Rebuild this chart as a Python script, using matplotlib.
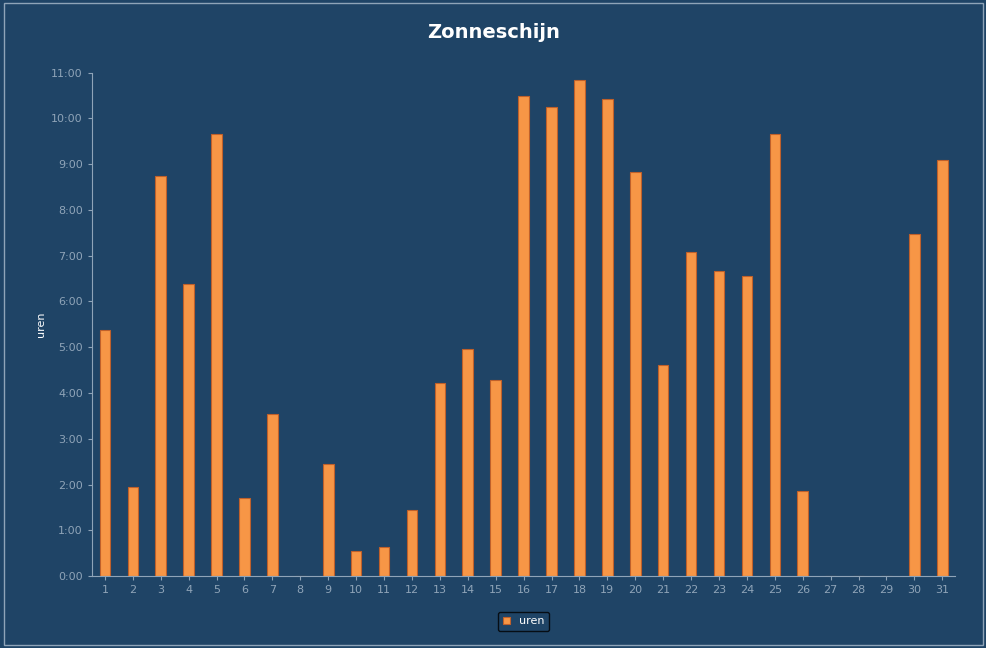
import matplotlib
matplotlib.use("Agg")
import matplotlib.pyplot as plt
from matplotlib.patches import Rectangle

days = list(range(1, 32))
hours = [5.38, 1.95, 8.73, 6.39, 9.65, 1.71, 3.54, 0, 2.45, 0.55, 0.63, 1.44, 4.22, 4.97, 4.29,
         10.48, 10.24, 10.83, 10.42, 8.82, 4.62, 7.07, 6.67, 6.56, 9.65, 1.86, 0, 0, 0, 7.48, 9.08]
yticklabels = [f"{h}:00" for h in range(12)]

bg = "#1F4466"
fig = plt.figure(figsize=(9.87, 6.48), dpi=100, facecolor=bg)
fig.patches.append(Rectangle((0.004, 0.005), 0.992, 0.99, transform=fig.transFigure,
                             fill=False, edgecolor="#8FA4B8", linewidth=1))
ax = fig.add_axes([0.093, 0.111, 0.875, 0.777], facecolor=bg)
ax.bar(days, hours, width=0.38, color="#F79646", edgecolor="#C0602A", linewidth=0.8, label="uren")
ax.set_xlim(0.53, 31.47)
ax.set_ylim(0, 11)
ax.set_yticks(range(12))
ax.set_yticklabels(yticklabels, color="white", fontsize=8)
ax.set_xticks(days)
ax.set_xticklabels([str(d) for d in days], color="white", fontsize=8)
for s in ["top", "right"]:
    ax.spines[s].set_visible(False)
for s in ["left", "bottom"]:
    ax.spines[s].set_color("#8FA4B8")
ax.tick_params(colors="#8FA4B8", length=3)
ax.set_ylabel("uren", color="white", fontsize=8)
fig.suptitle("Zonneschijn", color="white", fontsize=14, fontweight="bold", y=0.965)
leg = ax.legend(loc="upper center", bbox_to_anchor=(0.5, -0.06), frameon=True, fontsize=8,
                handlelength=0.7, handleheight=0.7)
leg.get_frame().set_facecolor(bg)
leg.get_frame().set_edgecolor("black")
for t in leg.get_texts():
    t.set_color("white")
fig.savefig("out.png", dpi=100, facecolor=bg)
